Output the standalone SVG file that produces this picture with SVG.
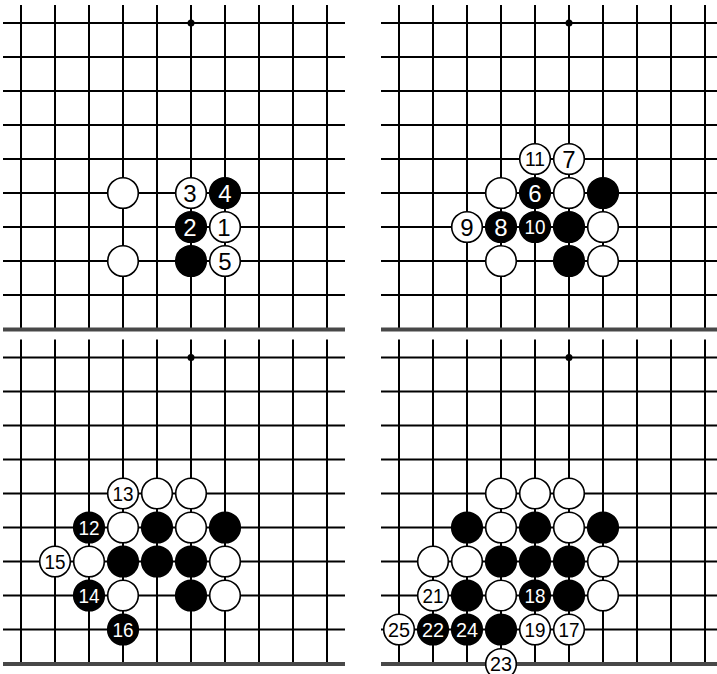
<svg xmlns="http://www.w3.org/2000/svg" xmlns:xlink="http://www.w3.org/1999/xlink" width="717" height="674" viewBox="0 0 717 674">
<style>
.grid line{stroke:#000;stroke-width:2}
.edge{stroke:#484848;stroke-width:4}
.w{fill:#fff;stroke:#000;stroke-width:1.6}
.b{fill:#000;stroke:#000;stroke-width:1.6}
text{font-family:"Liberation Sans",Arial,sans-serif;text-anchor:middle}
.n1{font-size:24px}
.n2{font-size:20.5px}
.tw{fill:#fff}
.tb{fill:#000}
</style>
<defs>
<g id="board">
<g class="grid">
<line x1="21" y1="5" x2="21" y2="329"/>
<line x1="55" y1="5" x2="55" y2="329"/>
<line x1="89" y1="5" x2="89" y2="329"/>
<line x1="123" y1="5" x2="123" y2="329"/>
<line x1="157" y1="5" x2="157" y2="329"/>
<line x1="191" y1="5" x2="191" y2="329"/>
<line x1="225" y1="5" x2="225" y2="329"/>
<line x1="259" y1="5" x2="259" y2="329"/>
<line x1="293" y1="5" x2="293" y2="329"/>
<line x1="327" y1="5" x2="327" y2="329"/>
<line x1="3" y1="23" x2="345" y2="23"/>
<line x1="3" y1="57" x2="345" y2="57"/>
<line x1="3" y1="91" x2="345" y2="91"/>
<line x1="3" y1="125" x2="345" y2="125"/>
<line x1="3" y1="159" x2="345" y2="159"/>
<line x1="3" y1="193" x2="345" y2="193"/>
<line x1="3" y1="227" x2="345" y2="227"/>
<line x1="3" y1="261" x2="345" y2="261"/>
<line x1="3" y1="295" x2="345" y2="295"/>
</g>
<line class="edge" x1="3" y1="329.5" x2="345" y2="329.5"/>
<circle cx="191" cy="23" r="3.5" fill="#000"/>
</g>
</defs>

<!-- Panel 1 -->
<g id="panel1">
<use xlink:href="#board" href="#board"/>
<g id="p1-w-a"><circle class="w" cx="123" cy="193" r="15.3"/></g>
<g id="p1-w-b"><circle class="w" cx="123" cy="261" r="15.3"/></g>
<g id="p1-m3"><circle class="w" cx="191" cy="193" r="15.3"/><text class="n1 tb" x="190" y="201.6">3</text></g>
<g id="p1-m4"><circle class="b" cx="225" cy="193" r="15.3"/><text class="n1 tw" x="225" y="201.6">4</text></g>
<g id="p1-m2"><circle class="b" cx="191" cy="227" r="15.3"/><text class="n1 tw" x="190" y="235.6">2</text></g>
<g id="p1-m1"><circle class="w" cx="225" cy="227" r="15.3"/><text class="n1 tb" x="224" y="235.6">1</text></g>
<g id="p1-b-a"><circle class="b" cx="191" cy="261" r="15.3"/></g>
<g id="p1-m5"><circle class="w" cx="225" cy="261" r="15.3"/><text class="n1 tb" x="225" y="269.6">5</text></g>
</g>

<!-- Panel 2 -->
<g id="panel2" transform="translate(378,0)">
<use xlink:href="#board" href="#board"/>
<g id="p2-m11"><circle class="w" cx="157" cy="159" r="15.3"/><text class="n2 tb" x="157" y="166.4" textLength="20" lengthAdjust="spacingAndGlyphs">11</text></g>
<g id="p2-m7"><circle class="w" cx="191" cy="159" r="15.3"/><text class="n1 tb" x="191" y="167.6">7</text></g>
<g id="p2-w-a"><circle class="w" cx="123" cy="193" r="15.3"/></g>
<g id="p2-m6"><circle class="b" cx="157" cy="193" r="15.3"/><text class="n1 tw" x="157" y="201.6">6</text></g>
<g id="p2-w-b"><circle class="w" cx="191" cy="193" r="15.3"/></g>
<g id="p2-b-a"><circle class="b" cx="225" cy="193" r="15.3"/></g>
<g id="p2-m9"><circle class="w" cx="89" cy="227" r="15.3"/><text class="n1 tb" x="89" y="235.6">9</text></g>
<g id="p2-m8"><circle class="b" cx="123" cy="227" r="15.3"/><text class="n1 tw" x="123" y="235.6">8</text></g>
<g id="p2-m10"><circle class="b" cx="157" cy="227" r="15.3"/><text class="n2 tw" x="157" y="234.4" textLength="21" lengthAdjust="spacingAndGlyphs">10</text></g>
<g id="p2-b-b"><circle class="b" cx="191" cy="227" r="15.3"/></g>
<g id="p2-w-c"><circle class="w" cx="225" cy="227" r="15.3"/></g>
<g id="p2-w-d"><circle class="w" cx="123" cy="261" r="15.3"/></g>
<g id="p2-b-c"><circle class="b" cx="191" cy="261" r="15.3"/></g>
<g id="p2-w-e"><circle class="w" cx="225" cy="261" r="15.3"/></g>
</g>

<!-- Panel 3 -->
<g id="panel3" transform="translate(0,334.5)">
<use xlink:href="#board" href="#board"/>
<g id="p3-m13"><circle class="w" cx="123" cy="159" r="15.3"/><text class="n2 tb" x="123" y="166.4" textLength="21" lengthAdjust="spacingAndGlyphs">13</text></g>
<g id="p3-w-a"><circle class="w" cx="157" cy="159" r="15.3"/></g>
<g id="p3-w-b"><circle class="w" cx="191" cy="159" r="15.3"/></g>
<g id="p3-m12"><circle class="b" cx="89" cy="193" r="15.3"/><text class="n2 tw" x="89" y="200.4" textLength="21" lengthAdjust="spacingAndGlyphs">12</text></g>
<g id="p3-w-c"><circle class="w" cx="123" cy="193" r="15.3"/></g>
<g id="p3-b-a"><circle class="b" cx="157" cy="193" r="15.3"/></g>
<g id="p3-w-d"><circle class="w" cx="191" cy="193" r="15.3"/></g>
<g id="p3-b-b"><circle class="b" cx="225" cy="193" r="15.3"/></g>
<g id="p3-m15"><circle class="w" cx="55" cy="227" r="15.3"/><text class="n2 tb" x="55" y="234.4" textLength="21" lengthAdjust="spacingAndGlyphs">15</text></g>
<g id="p3-w-e"><circle class="w" cx="89" cy="227" r="15.3"/></g>
<g id="p3-b-c"><circle class="b" cx="123" cy="227" r="15.3"/></g>
<g id="p3-b-d"><circle class="b" cx="157" cy="227" r="15.3"/></g>
<g id="p3-b-e"><circle class="b" cx="191" cy="227" r="15.3"/></g>
<g id="p3-w-f"><circle class="w" cx="225" cy="227" r="15.3"/></g>
<g id="p3-m14"><circle class="b" cx="89" cy="261" r="15.3"/><text class="n2 tw" x="89" y="268.4" textLength="21" lengthAdjust="spacingAndGlyphs">14</text></g>
<g id="p3-w-g"><circle class="w" cx="123" cy="261" r="15.3"/></g>
<g id="p3-b-f"><circle class="b" cx="191" cy="261" r="15.3"/></g>
<g id="p3-w-h"><circle class="w" cx="225" cy="261" r="15.3"/></g>
<g id="p3-m16"><circle class="b" cx="123" cy="295" r="15.3"/><text class="n2 tw" x="123" y="302.4" textLength="21" lengthAdjust="spacingAndGlyphs">16</text></g>
</g>

<!-- Panel 4 -->
<g id="panel4" transform="translate(378,334.5)">
<use xlink:href="#board" href="#board"/>
<g id="p4-w-a"><circle class="w" cx="123" cy="159" r="15.3"/></g>
<g id="p4-w-b"><circle class="w" cx="157" cy="159" r="15.3"/></g>
<g id="p4-w-c"><circle class="w" cx="191" cy="159" r="15.3"/></g>
<g id="p4-b-a"><circle class="b" cx="89" cy="193" r="15.3"/></g>
<g id="p4-w-d"><circle class="w" cx="123" cy="193" r="15.3"/></g>
<g id="p4-b-b"><circle class="b" cx="157" cy="193" r="15.3"/></g>
<g id="p4-w-e"><circle class="w" cx="191" cy="193" r="15.3"/></g>
<g id="p4-b-c"><circle class="b" cx="225" cy="193" r="15.3"/></g>
<g id="p4-w-f"><circle class="w" cx="55" cy="227" r="15.3"/></g>
<g id="p4-w-g"><circle class="w" cx="89" cy="227" r="15.3"/></g>
<g id="p4-b-d"><circle class="b" cx="123" cy="227" r="15.3"/></g>
<g id="p4-b-e"><circle class="b" cx="157" cy="227" r="15.3"/></g>
<g id="p4-b-f"><circle class="b" cx="191" cy="227" r="15.3"/></g>
<g id="p4-w-h"><circle class="w" cx="225" cy="227" r="15.3"/></g>
<g id="p4-m21"><circle class="w" cx="55" cy="261" r="15.3"/><text class="n2 tb" x="55" y="268.4" textLength="21" lengthAdjust="spacingAndGlyphs">21</text></g>
<g id="p4-b-g"><circle class="b" cx="89" cy="261" r="15.3"/></g>
<g id="p4-w-i"><circle class="w" cx="123" cy="261" r="15.3"/></g>
<g id="p4-m18"><circle class="b" cx="157" cy="261" r="15.3"/><text class="n2 tw" x="157" y="268.4" textLength="21" lengthAdjust="spacingAndGlyphs">18</text></g>
<g id="p4-b-h"><circle class="b" cx="191" cy="261" r="15.3"/></g>
<g id="p4-w-j"><circle class="w" cx="225" cy="261" r="15.3"/></g>
<g id="p4-m25"><circle class="w" cx="21" cy="295" r="15.3"/><text class="n2 tb" x="21" y="302.4" textLength="22" lengthAdjust="spacingAndGlyphs">25</text></g>
<g id="p4-m22"><circle class="b" cx="55" cy="295" r="15.3"/><text class="n2 tw" x="55" y="302.4" textLength="22" lengthAdjust="spacingAndGlyphs">22</text></g>
<g id="p4-m24"><circle class="b" cx="89" cy="295" r="15.3"/><text class="n2 tw" x="89" y="302.4" textLength="22" lengthAdjust="spacingAndGlyphs">24</text></g>
<g id="p4-b-i"><circle class="b" cx="123" cy="295" r="15.3"/></g>
<g id="p4-m19"><circle class="w" cx="157" cy="295" r="15.3"/><text class="n2 tb" x="157" y="302.4" textLength="21" lengthAdjust="spacingAndGlyphs">19</text></g>
<g id="p4-m17"><circle class="w" cx="191" cy="295" r="15.3"/><text class="n2 tb" x="191" y="302.4" textLength="21" lengthAdjust="spacingAndGlyphs">17</text></g>
<g id="p4-m23"><circle class="w" cx="123" cy="329.5" r="15.3"/><text class="n2 tb" x="123" y="336.9" textLength="22" lengthAdjust="spacingAndGlyphs">23</text></g>
</g>
</svg>
